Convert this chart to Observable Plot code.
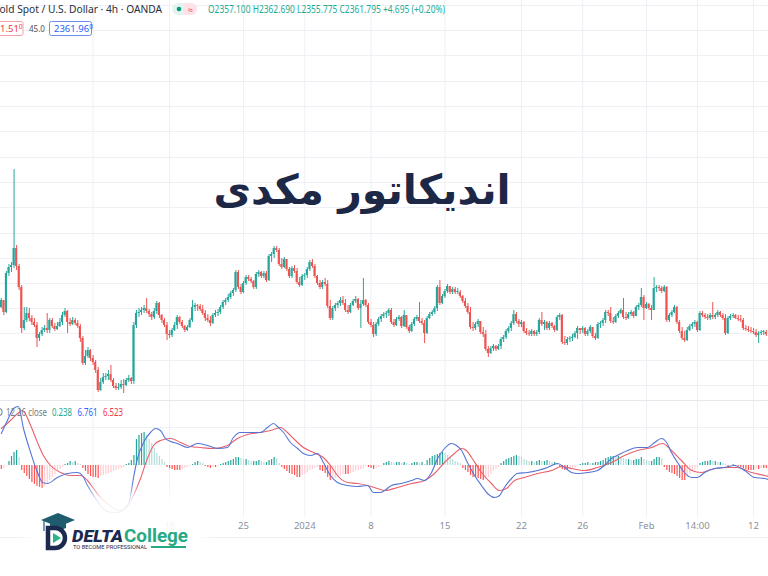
<!DOCTYPE html>
<html><head><meta charset="utf-8">
<script src="https://cdn.jsdelivr.net/npm/d3@7"></script>
<script src="https://cdn.jsdelivr.net/npm/@observablehq/plot@0.6"></script>
<style>
body{margin:0;background:#fff;}
#wrap{position:relative;width:768px;height:576px;overflow:hidden;background:#fff;font-family:"Noto Sans",sans-serif;}
#wrap > svg, #wrap > div{position:absolute;left:0;}
</style></head><body><div id="wrap"></div>
<script>
// ---- candles (4h), x = candle index ----
const firstOpen = 1993;
const close = [2000,1988,2027,2033,2035,2052,2034,2013,1972,1980, 1987,1982,1978,1975,1962,1966,1970,1972,1970,1980,
1974,1971,1974,1978,1985,1989,1978,1976,1980,1977, 1974,1962,1937,1944,1950,1942,1938,1930,1910,1918,
1923,1924,1926,1920,1914,1912,1913,1916,1915,1920, 1922,1919,1975,1987,1988,1990,1992,1989,1986,1983,
1989,1997,1985,1980,1975,1966,1965,1970,1975,1983, 1978,1974,1970,1973,1980,1993,1995,1994,1991,1987,
1982,1980,1977,1985,1987,1988,1993,1998,2000,2003, 2007,2010,2028,2013,2008,2017,2023,2021,2019,2013,
2026,2028,2024,2027,2020,2044,2046,2052,2050,2036, 2033,2041,2031,2024,2032,2029,2018,2015,2024,2025,
2031,2038,2034,2024,2017,2013,2018,2016,1994,1982, 1992,1995,1997,2000,1997,1990,1988,1995,1999,2001,
1992,1996,2000,1995,1978,1975,1966,1976,1981,1984, 1986,1987,1990,1978,1975,1981,1983,1974,1985,1973,
1969,1976,1981,1983,1979,1977,1967,1982,1986,1988, 1992,2013,1997,2004,2009,2014,2008,2011,2008,2008,
2004,1999,1994,1988,1973,1972,1976,1979,1968,1966, 1951,1947,1952,1954,1951,1954,1961,1963,1969,1972,
1977,1986,1979,1976,1978,1969,1967,1966,1969,1966, 1968,1980,1976,1978,1972,1977,1974,1970,1983,1985,
1958,1957,1961,1962,1963,1967,1972,1970,1972,1966, 1969,1973,1964,1962,1976,1977,1980,1988,1987,1979,
1978,1984,1987,1990,1983,1982,1986,1988,1984,1993, 1995,2003,1992,1996,1992,1990,2012,2013,2012,2009,
2013,1980,1985,1988,1993,1978,1969,1962,1960,1970, 1974,1976,1978,1970,1987,1985,1983,1982,1985,1983,
1985,1988,1985,1982,1967,1982,1984,1985,1982,1981, 1980,1972,1971,1970,1969,1968,1965,1967,1968,1968,1966];
const high = [2002,2000,2029,2036,2038,2131,2055,2036,2015,1993, 1993,1992,1985,1982,1978,1968,1973,1975,1987,1982,
1982,1977,1978,1982,1988,1992,1990,1982,1983,1982, 1980,1976,1964,1950,1953,1951,1945,1940,1933,1922,
1927,1927,1930,1935,1922,1917,1917,1920,1921,1922, 1925,1923,1978,1990,1992,1993,1995,2002,1991,1988,
1992,1999,1998,1986,1982,1978,1970,1972,1978,1985, 1984,1980,1975,1975,1982,2000,1997,1996,1996,1995,
1990,1986,1984,1987,1990,1991,1995,2000,2002,2006, 2009,2012,2030,2030,2016,2019,2025,2025,2023,2020,
2028,2030,2029,2029,2029,2046,2048,2054,2054,2052, 2042,2043,2040,2033,2034,2035,2032,2023,2026,2027,
2033,2040,2041,2036,2025,2020,2020,2022,2020,2000, 1994,1997,1999,2003,2004,2001,1995,1997,2001,2004,
2002,2000,2022,2001,1997,1981,1978,1978,1983,1986, 1988,1989,1992,1992,1981,1983,1985,1984,1990,1985,
1975,1978,1983,1985,1998,1982,1980,1984,1988,1990, 1994,2015,2020,2006,2011,2016,2014,2013,2013,2012,
2010,2005,2002,1997,1993,1978,1978,1981,1978,1973, 1970,1954,1954,1956,1955,1956,1963,1965,1971,1974,
1979,1990,1988,1981,1980,1979,1972,1970,1971,1970, 1970,1982,1988,1980,1979,1979,1978,1975,1985,1987,
1986,1964,1963,1964,1966,1969,1974,1972,1974,1973, 1971,1975,1973,1967,1978,1979,1982,1990,1990,1993,
1983,1986,1989,1992,2002,1988,1988,1990,1989,1995, 1997,2012,2005,1998,1997,1995,2023,2015,2015,2014,
2015,2014,1987,1990,1995,1994,1980,1973,1969,1973, 1976,1978,1980,1979,1989,1989,1987,1986,1987,1998,
1987,1990,1989,1987,1986,1984,1986,1987,1986,1985, 1985,1982,1975,1974,1973,1972,1971,1969,1970,1970,1970];
const low = [1992,1985,1987,2024,2028,2032,2030,2010,1967,1970, 1978,1979,1975,1973,1953,1959,1964,1968,1967,1967,
1972,1969,1970,1973,1975,1983,1967,1974,1975,1975, 1972,1958,1935,1935,1942,1939,1935,1927,1908,1909,
1916,1920,1920,1918,1912,1910,1910,1911,1907,1914, 1918,1916,1916,1972,1983,1985,1987,1987,1983,1980,
1981,1986,1982,1977,1973,1960,1962,1963,1969,1971, 1976,1972,1968,1969,1972,1978,1989,1989,1989,1985,
1979,1978,1974,1976,1983,1984,1986,1991,1995,1998, 2001,2004,2008,2011,2006,2007,2015,2019,2017,2011,
2011,2023,2022,2022,2018,2019,2038,2042,2048,2034, 2031,2032,2029,2022,2022,2027,2016,2013,2014,2020,
2022,2029,2032,2022,2015,2011,2011,2014,1992,1980, 1980,1989,1992,1994,1995,1988,1986,1987,1994,1997,
1990,1972,1994,1993,1976,1973,1963,1964,1974,1978, 1982,1982,1984,1976,1973,1974,1979,1972,1973,1971,
1967,1968,1974,1979,1977,1975,1957,1966,1981,1984, 1986,1989,1995,1996,2002,2007,2006,2006,2006,2006,
2002,1997,1992,1986,1971,1969,1970,1973,1966,1963, 1949,1943,1946,1949,1949,1950,1951,1958,1961,1967,
1969,1975,1977,1973,1973,1967,1965,1964,1964,1964, 1964,1966,1974,1970,1970,1970,1972,1968,1969,1980,
1956,1955,1955,1958,1959,1962,1961,1966,1967,1964, 1964,1967,1962,1960,1961,1972,1974,1977,1984,1977,
1976,1977,1982,1986,1981,1980,1981,1984,1982,1984, 1990,1993,1980,1991,1990,1980,1990,2008,2009,2007,
2008,1978,1978,1983,1987,1976,1967,1960,1958,1959, 1969,1971,1973,1968,1969,1983,1981,1980,1980,1981,
1981,1983,1983,1980,1965,1966,1980,1982,1981,1979, 1978,1970,1969,1968,1967,1966,1963,1957,1965,1965,1964];

// ---- MACD (12, 26, close) ----
const hist = [-2,-1.5,-0.5,2,4.5,6.5,7.5,4,-2.5,-4, -5.5,-7,-8.5,-9.5,-10.5,-11,-11.5,-10.5,-9,-7.5,
-6,-4.5,-3,-2,-1,0.5,1,2,1.5,2, 1,0.5,-1.5,-3,-4.5,-5.5,-6,-6,-6.5,-5.5,
-5,-4.5,-4,-3.5,-3,-2.5,-2,-1.5,-1,0.5, 1,2.5,5,13,15,16,16.5,15,13,11,
8.5,6,4.5,3,1.5,-1,-1.5,-2,-2.5,-2.5, -2.5,-2,-1.5,-1,-0.5,0.5,1.5,2,1.5,1,
-0.5,-1,-1.5,-1,-1,-0.5,0.5,1,1.5,2, 2.5,3,4,4,3.5,3,3,2.5,2,2,
2,2.5,2,1.5,1.5,2.5,3,4,3.5,1, -1,-2,-3,-4,-4.5,-5,-6,-6,-5,-4.5,
-3.5,-2.5,-2,-1.5,-1,-2.5,-3,-4,-6,-7.5, -7,-6.5,-6,-5,-4.5,-4.5,-4.5,-4,-3.5,-3,
-2.5,-2,-1.5,-0.5,-1,-1.5,-2,-1.5,-1,-0.5, 1,1.5,2,1.5,1,1.5,1.5,1,1.5,1,
0.5,1,1.5,1.5,1,1.5,0.5,2.5,3.5,4.5, 5,5.5,6,6.5,6,5,4,3,2,1.5,
1,-1.5,-2.5,-3.5,-5,-6,-6,-6.5,-7,-7.5, -7,-6,-4.5,-3,-2,-1,1,2,3,3.5,
4,4.5,5,4.5,4,3,2.5,2,2,1.5, 2,2.5,2,2,2.5,2,1.5,1.5,1,-1,
-2,-2.5,-2.5,-2,-1.5,-1,-0.5,0.5,1,1, 1.5,1,1,1.5,1.5,2,2.5,3.5,4,4.5,
4.5,4,4.5,4,3.5,3,3,2.5,2.5,3, 3,4,3,2.5,2,2,3,4,4,3.5,
-1,-2.5,-3.5,-4,-4.5,-5.5,-6.5,-7.5,-7.5,-6, -4.5,-3,-2,-1,1,1.5,2,2,2.5,2,
2,1.5,1.5,1,0.5,-0.5,0,0.5,-0.5,-0.5, -1,-1.5,-2,-2.5,-2.5,-2.5,-2,-2,-1.5,-1.5,-1.5];
const macdAt = [0,2.4,4.8,6.7,8.7,11.5,14.2,16.2,18.1,22, 26,29.9,31.8,33.8,36.2,38.9,41.6,44.8,47.5,49.9,
50.7,51.8,53.4,55.8,58.5,60.5,62.4,64.4,66.4,69.1, 73,76.9,80.9,84.8,88.7,91,93.8,97.7,101.6,104.4,
106.7,108.7,110.7,113.4,116.2,118.5,121.3,124,126.3,129.1, 131.8,135.8,139.7,143.6,146,148.7,150.3,153,156.9,160.9,
163.2,166,168.7,171.1,173.8,176.5,178.5,180.5,182.8,185.6, 188.3,190.7,193.4,195.4,197.3,200.1,202.4,206.4,210.3,214.2,
218.1,220.9,223.6,226,229.9,233.8,236.5,239.3,241.6,245.6, 249.5,253.4,256.2,258.9,260.9,262.8,265.2,267.9,270.7,273,
275.8,279.7,283.6,287.5,291.5,295.4,299.3,300.9];
const macdLine = [16,22.5,28.5,29.5,18.5,6.5,-3.5,-8.5,-9,-6, -4,-3.5,-5,-10,-15,-20,-23,-23.5,-22.5,-19,
-15,-6.5,3.5,11.5,16.5,18.5,17.5,13.5,12,11, 9,11,10,8.5,9,14,16.5,16.5,16.5,19,
21,19,16.5,11.5,8.5,6,5,6,1.5,-5, -8.5,-10,-10.5,-10,-13.5,-13.5,-12.5,-10,-9,-7.5,
-6.5,-7.5,-3.5,3.5,8.5,11,10,7.5,1.5,-5, -10,-14,-16,-15,-11,-6.5,-4,-3.5,-2.5,-1,
1,-1,-3.5,-4,-3.5,-2.5,0,3.5,5,7.5, 9,9,11.5,13.5,11.5,6.5,1.5,-3.5,-6,-6,
-3.5,-1.5,-1,0,-2.5,-6,-6.5,-7];
const signalAt = [0,3.6,6.4,8.3,11.5,14.2,16.5,19.3,23.2,27.1, 31.1,33.8,36.2,38.9,41.6,44,46.7,49.5,51.8,54.6,
57.3,59.7,62.4,66.4,70.3,74.2,78.1,83.2,88.7,92.6, 96.5,101.6,105.6,109.5,112.2,114.6,118.5,122.4,126.3,129.1,
131.8,135.8,139.7,143.6,147.5,150.3,155.4,160.9,166,169.9, 173.8,177.7,180.5,182.4,184.4,188.3,192.2,195.4,198.1,201.3,
205.2,210.3,215.8,219.7,223.6,228.7,233.8,239.3,244.4,249.5, 255,259.3,262.8,266.7,270.7,274.6,278.5,283.6,288.7,294.2,
299.3,300.9];
const signalLine = [18.5,22.5,26,27.5,20,11.5,5,0,-3.5,-5, -5,-7.5,-11.5,-16,-19,-21.5,-22.5,-20.5,-15,-6.5,
3.5,10,12.5,13.5,11.5,9.5,9,8.5,10,13.5, 15.5,16.5,17.5,19,16.5,13.5,9,6.5,4,0,
-5,-8.5,-9,-10,-11.5,-12.5,-11,-9,-7.5,-4, 1.5,6,8.5,7.5,4,-3.5,-9,-12.5,-11.5,-7.5,
-6,-4,-2.5,-0.5,-1.5,-2.5,-1,1.5,5,7.5, 9,11,7.5,2.5,-2.5,-3.5,-2,-1,-1,-3.5,
-5,-5.5];

// ---- axis ticks / grid ----
const gridAt = [36,66,95,119,145,174,204,228,253,273,295];
const tickAt = [66,95,119,145,174,204,228,253,273,295];
const tickLabels = ["18","25","2024","8","15","22","26","Feb","14:00","12"];
const priceGrid = [2295,2270,2245,2219,2194,2169,2143,2118,2093,2067,2042,2017,1992,1967,1940,1915];
const macdGrid = [19];

// ---- build tables ----
const UP = "#26a69a", DOWN = "#ef5350", GRID = "#eef0f5";
const rows = close.map((c, i) => {
  const o = i === 0 ? firstOpen : close[i - 1];
  return {i, open: o, close: c, high: Math.max(high[i], o, c), low: Math.min(low[i], o, c), col: c >= o ? UP : DOWN};
});
const histRows = hist.map((v, i) => {
  const p = i === 0 ? v : hist[i - 1];
  const col = v >= 0 ? (v >= p ? "#26a69a" : "#b2dfdb") : (v <= p ? "#ff5252" : "#ffcdd2");
  return {i, v, col};
});
const macdRows = macdAt.map((x, k) => ({x, v: macdLine[k]}));
const signalRows = signalAt.map((x, k) => ({x, v: signalLine[k]}));
const tickRows = tickAt.map((at, k) => ({at, label: tickLabels[k]}));
const xDomain = [-0.314, 300.86];

const wrap = document.getElementById("wrap");

const candle = Plot.plot({
  width: 768, height: 400, margin: 0,
  x: {domain: xDomain, axis: null},
  y: {domain: [1900, 2300], axis: null},
  color: {type: "identity"},
  style: {background: "transparent"},
  marks: [
    Plot.ruleY(priceGrid, {stroke: GRID}),
    Plot.ruleX(gridAt, {stroke: GRID}),
    Plot.ruleX(rows, {x: "i", y1: "low", y2: "high", stroke: "col", strokeWidth: 1}),
    Plot.rect(rows, {x1: d => d.i - 0.4, x2: d => d.i + 0.4, y1: "open",
      y2: d => Math.abs(d.close - d.open) < 1 ? d.open + (d.col === UP ? 1 : -1) : d.close, fill: "col"})
  ]
});
candle.style.top = "0px";
wrap.appendChild(candle);

const macd = Plot.plot({
  width: 768, height: 175, marginTop: 0, marginBottom: 59, marginLeft: 0, marginRight: 0,
  x: {domain: xDomain, axis: null},
  y: {domain: [-26, 32], axis: null},
  color: {type: "identity"},
  style: {background: "transparent", fontFamily: "Noto Sans"},
  marks: [
    Plot.ruleY(macdGrid, {stroke: GRID}),
    Plot.ruleX(gridAt, {stroke: GRID, y1: -26, y2: 32}),
    Plot.ruleX(histRows, {x: "i", y1: d => 0, y2: "v", stroke: "col", strokeWidth: 1.2}),
    Plot.line(signalRows, {x: "x", y: "v", stroke: "#e8616d", strokeWidth: 1.1, curve: "monotone-x"}),
    Plot.line(macdRows, {x: "x", y: "v", stroke: "#5575d6", strokeWidth: 1.1, curve: "monotone-x"}),
    Plot.text(tickRows, {x: "at", text: "label", frameAnchor: "bottom", dy: 11, fontSize: 9.5, fill: "#8c8f98"})
  ]
});
macd.style.top = "401px";
wrap.appendChild(macd);

// ---- overlay: legends, title, logo ----
const ns = "http://www.w3.org/2000/svg";
const ov = document.createElementNS(ns, "svg");
ov.setAttribute("width", 768); ov.setAttribute("height", 576);
ov.style.top = "0px";
ov.innerHTML = `
<defs><filter id="blur" x="-20%" y="-40%" width="140%" height="180%"><feGaussianBlur stdDeviation="7"/></filter></defs>
<line x1="0" y1="400.5" x2="768" y2="400.5" stroke="#e6e8ee"/>
<line x1="0" y1="537.5" x2="768" y2="537.5" stroke="#eceef2"/>
<g font-family="Noto Sans, sans-serif">
<text x="-8" y="13" font-size="10.5" fill="#2a2e39" textLength="170" lengthAdjust="spacingAndGlyphs">Gold Spot / U.S. Dollar · 4h · OANDA</text>
<rect x="172" y="3" width="25" height="12" rx="6" fill="#e3f4ef"/>
<rect x="184" y="3" width="13" height="12" rx="6" fill="#fde3e8"/>
<rect x="184" y="3" width="5" height="12" fill="#fde3e8"/>
<circle cx="179" cy="9" r="2.3" fill="#089981"/>
<text x="190.5" y="12.5" font-size="9" text-anchor="middle" fill="#f23645">≈</text>
<text x="208" y="13" font-size="10" fill="#22ab94" textLength="237" lengthAdjust="spacingAndGlyphs">O2357.100 H2362.690 L2355.775 C2361.795 +4.695 (+0.20%)</text>
<rect x="-6" y="21.5" width="29" height="14" rx="2" fill="#fff" stroke="#f7a1a8"/>
<text x="0" y="32" font-size="9.5" fill="#f23645">1.51<tspan font-size="6.5" dy="-3">0</tspan></text>
<text x="29" y="31.5" font-size="8" fill="#50535e">45.0</text>
<rect x="49.5" y="21.5" width="42" height="14" rx="2" fill="#fff" stroke="#6d8ee8"/>
<text x="54" y="32" font-size="9.5" fill="#2962ff">2361.96<tspan font-size="6.5" dy="-3">0</tspan></text>
<text x="3" y="416" font-size="10" text-anchor="end" fill="#787b86">MACD</text>
<text x="6" y="416" font-size="10" fill="#787b86" textLength="41" lengthAdjust="spacingAndGlyphs">12 26 close</text>
<text x="52" y="416" font-size="10" fill="#22ab94" textLength="20" lengthAdjust="spacingAndGlyphs">0.238</text>
<text x="77.5" y="416" font-size="10" fill="#2962ff" textLength="20" lengthAdjust="spacingAndGlyphs">6.761</text>
<text x="103" y="416" font-size="10" fill="#f23645" textLength="20" lengthAdjust="spacingAndGlyphs">6.523</text>
</g>
<text x="362" y="204" text-anchor="middle" direction="rtl" font-family="DejaVu Sans" font-weight="bold" font-size="41" fill="#1d2746">اندیکاتور مکدی</text>
<rect x="24" y="492" width="184" height="84" rx="24" fill="#fff" opacity="0.9" filter="url(#blur)"/>
<g>
<polygon points="41,520 58,513 75,520 58,527" fill="#1f5c6e"/>
<path d="M50,523 v5 q8,4 16,0 v-5 l-8,3 z" fill="#1f5c6e"/>
<line x1="44" y1="521" x2="44" y2="531" stroke="#1f5c6e" stroke-width="1.2"/>
<path d="M48,528 h7 a10,10 0 0 1 0,20 h-7 z" fill="none" stroke="#1b2a4e" stroke-width="4.5"/>
<polygon points="53,533 61,538 53,543" fill="#2bb38a"/>
<text x="72" y="542" font-family="Roboto, sans-serif" font-weight="900" font-style="italic" font-size="16" fill="#1b2a4e" textLength="51" lengthAdjust="spacingAndGlyphs">DELTA</text>
<text x="124" y="542" font-family="Roboto, sans-serif" font-weight="700" font-size="18" fill="#27a983" textLength="64" lengthAdjust="spacingAndGlyphs">College</text>
<text x="73" y="549" font-family="Roboto, sans-serif" font-size="5.5" fill="#1b2a4e" textLength="74" lengthAdjust="spacingAndGlyphs">TO BECOME PROFESSIONAL</text>
<line x1="151" y1="547" x2="186" y2="547" stroke="#27a983" stroke-width="2"/>
</g>`;
wrap.appendChild(ov);
</script>
</body></html>
